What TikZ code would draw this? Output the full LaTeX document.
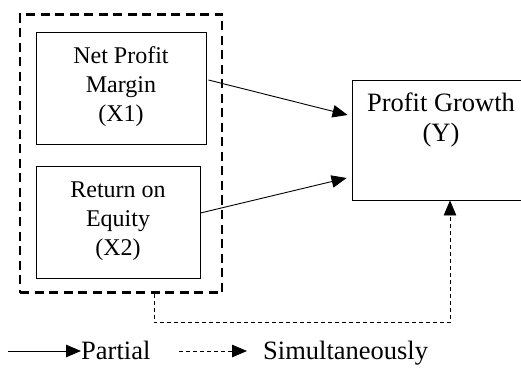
\documentclass[tikz,border=0pt]{standalone}
\usepackage{fontspec}
\setmainfont{Liberation Serif}
\usetikzlibrary{arrows.meta}
\begin{document}
\begin{tikzpicture}[x=1pt,y=-1pt,
  box/.style={draw,line width=0.9pt,inner sep=0pt,align=center},
  outerbox/.style={draw,line width=2.3pt,dash pattern=on 9pt off 5.5pt,inner sep=0pt},
  tip/.style={-{Triangle[length=15pt,width=12.5pt]}},
  solidarrow/.style={tip,line width=0.9pt},
  dasharrow/.style={tip,line width=0.8pt,dash pattern=on 4pt off 3pt},
  boxtext/.style={font=\fontsize{24}{29}\selectfont,align=center,inner sep=0pt},
  bigtext/.style={font=\fontsize{26.5}{30}\selectfont,align=center,inner sep=0pt}]
\clip (0,0) rectangle (521,371);
\fill[white] (0,0) rectangle (521,371);
% outer dashed group
\node[outerbox,minimum width=202pt,minimum height=278pt] (outer) at (121,153.5) {};
% variable boxes
\node[box,minimum width=170pt,minimum height=112pt] (X1) at (121,88) {};
\node[boxtext] (X1t) at (121,87) {Net Profit\\Margin\\(X1)};
\node[box,minimum width=164pt,minimum height=112pt] (X2) at (118,222) {};
\node[boxtext] (X2t) at (118,221) {Return on\\Equity\\(X2)};
\node[box,minimum width=178pt,minimum height=120pt] (Y) at (441,140) {};
\node[bigtext] (Yt) at (441,120) {Profit Growth\\(Y)};
% partial arrows
\draw[solidarrow] ([xshift=2pt,yshift=8pt]X1.east) -- ([xshift=-4pt,yshift=25pt]Y.west);
\draw[solidarrow] ([yshift=9pt]X2.east) -- ([xshift=-5pt,yshift=-38pt]Y.west);
% simultaneous arrow
\coordinate (dstart) at ([xshift=33pt]outer.south);
\coordinate (dend) at ([xshift=9pt]Y.south);
\draw[dasharrow] (dstart) -- ++(0,29) -| (dend);
% legend
\coordinate (ls1) at (8,351);
\node[bigtext,anchor=base west] (lp) at (81,359) {Partial};
\draw[solidarrow] (ls1) -- (lp.west |- ls1);
\coordinate (ls2) at (179,351);
\node[bigtext,anchor=base west] (lsim) at (263,359) {Simultaneously};
\draw[dasharrow] (ls2) -- ([xshift=-16pt]lsim.west |- ls2);
\end{tikzpicture}
\end{document}
